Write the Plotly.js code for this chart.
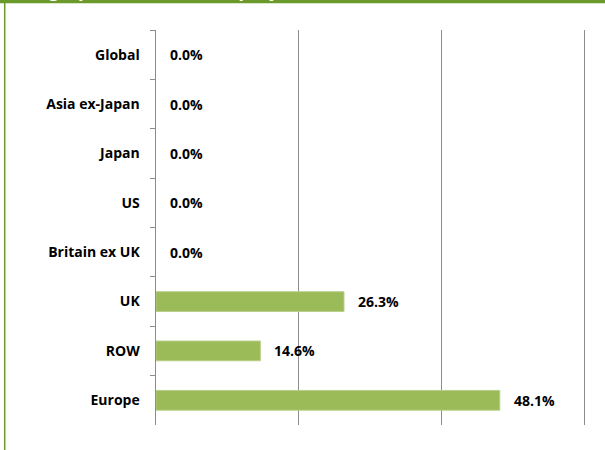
<!DOCTYPE html>
<html>
<head>
<meta charset="utf-8">
<script src="https://cdn.plot.ly/plotly-3.0.1.min.js"></script>
<style>html,body{margin:0;padding:0;background:#fff;}#chart{width:605px;height:450px;}</style>
</head>
<body>
<div id="chart"></div>
<script>
var categories = ["Global", "Asia ex-Japan", "Japan", "US", "Britain ex UK", "UK", "ROW", "Europe"];
var values = [0.0, 0.0, 0.0, 0.0, 0.0, 26.3, 14.6, 48.1];
var titleText = "Geographic Allocation (Equity)";

var FONT = "'Open Sans', Lato, sans-serif";
var labels = values.map(function (v) { return v.toFixed(1) + "%"; });

var trace = {
  type: "bar",
  orientation: "h",
  y: categories,
  x: values,
  width: 0.4,
  marker: {
    color: "#9BBB59",
    line: { color: "#B9CF8A", width: values.map(function (v) { return v > 0 ? 1 : 0; }) }
  },
  hoverinfo: "skip"
};

var annotations = categories.map(function (c, i) {
  return {
    x: values[i], y: c, xref: "x", yref: "y",
    text: "<b>" + labels[i] + "</b>",
    showarrow: false, xanchor: "left", yanchor: "middle",
    xshift: 12,
    font: { family: FONT, size: 14, color: "#000" }
  };
});
annotations.push({
  xref: "paper", yref: "paper", x: -0.33, y: 1.065,
  xanchor: "left", yanchor: "bottom", showarrow: false,
  text: "<b>" + titleText + "</b>",
  font: { family: FONT, size: 18, color: "#fff" }
});

var layout = {
  width: 605, height: 450,
  margin: { l: 156, r: 13, t: 30, b: 25, pad: 0 },
  paper_bgcolor: "#fff", plot_bgcolor: "#fff",
  showlegend: false,
  bargap: 0.6,
  font: { family: FONT, size: 14, color: "#000" },
  xaxis: {
    range: [0, 61], dtick: 20, tick0: 0,
    showticklabels: false, ticks: "",
    showgrid: true, gridcolor: "#8C8C8C", gridwidth: 1,
    zeroline: false, showline: false, fixedrange: true
  },
  yaxis: {
    type: "category",
    categoryorder: "array", categoryarray: categories,
    autorange: "reversed",
    showgrid: false, zeroline: false,
    showline: true, linecolor: "#8C8C8C", linewidth: 1.5,
    ticks: "outside", tickson: "boundaries", ticklen: 5, tickcolor: "#8C8C8C", tickwidth: 1,
    ticklabelstandoff: 12,
    tickfont: { family: FONT, size: 14, color: "#000", weight: "bold" },
    fixedrange: true
  },
  shapes: [
    { type: "rect", xref: "paper", yref: "paper", x0: -0.4, x1: 1.1, y0: 1.0675, y1: 1.2,
      fillcolor: "#6A9A2C", line: { width: 0 }, layer: "below" },
    { type: "line", xref: "paper", yref: "paper", x0: -0.347, x1: -0.347, y0: -0.2, y1: 1.07,
      line: { color: "#6A9A2C", width: 1.5 } }
  ],
  annotations: annotations
};

Plotly.newPlot("chart", [trace], layout, { displayModeBar: false, staticPlot: true });
</script>
</body>
</html>
